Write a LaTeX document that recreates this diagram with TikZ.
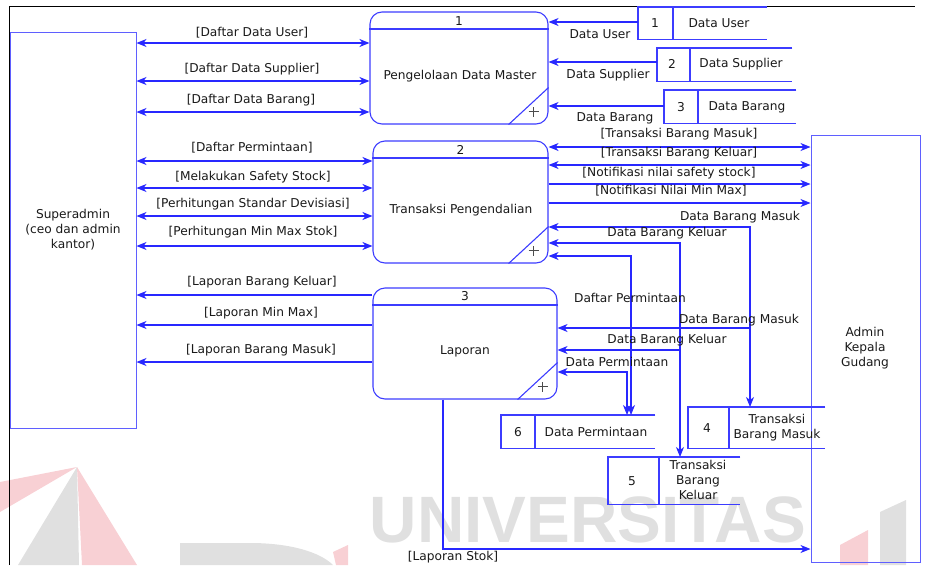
\documentclass[tikz,border=0pt]{standalone}
\usepackage{fontspec}
\setmainfont{DejaVu Sans}
\newfontfamily\wmfont{Liberation Sans}
\usetikzlibrary{arrows.meta}

\definecolor{flowblue}{RGB}{40,40,255}
\definecolor{boxblue}{RGB}{60,60,255}
\definecolor{entblue}{RGB}{95,95,255}
\definecolor{wmgrey}{RGB}{224,224,224}
\definecolor{wmred}{RGB}{248,208,212}
\definecolor{txt}{RGB}{25,25,25}

\newcommand\lblfont{\fontsize{12.2}{15}\selectfont}

\tikzset{
  tip/.tip={Stealth[length=10pt,width=8pt,inset=3pt]},
  flow/.style={draw=flowblue, line width=1.1pt, -tip},
  flow2/.style={draw=flowblue, line width=1.1pt, tip-tip},
  lbl/.style={font=\lblfont, text=txt, inner sep=0pt},
  ent/.style={draw=entblue, line width=1pt, inner sep=0pt, font=\lblfont, text=txt},
  proc/.style={draw=boxblue, line width=1.1pt, rounded corners=12pt, inner sep=0pt},
  procline/.style={draw=boxblue, line width=1.1pt},
  plusst/.style={draw=black!70, line width=0.8pt},
  storefrm/.style={inner sep=0pt, anchor=north west},
  sline/.style={draw=boxblue, line width=1.1pt},
}

\begin{document}
\begin{tikzpicture}[x=1pt,y=-1pt]
\useasboundingbox (0,0) rectangle (925,565);

% ---- background watermark ----
\fill[wmred]  (77,467) -- (0,482) -- (0,512) -- cycle;
\fill[wmgrey] (77,467) -- (18,565) -- (79,565) -- cycle;
\fill[wmred]  (77,467) -- (82,565) -- (137,565) -- cycle;
\fill[wmgrey] (180,565) -- (180,543) -- (250,543) .. controls (290,543) and (320,552) .. (333,565) -- cycle;
\fill[wmred]  (333,552) -- (348,545) -- (348,565) -- (336,565) -- cycle;
\fill[wmred]  (840,545) -- (868,530) -- (868,565) -- (840,565) -- cycle;
\fill[wmgrey] (880,512) -- (906,500) -- (906,565) -- (880,565) -- cycle;
\node[anchor=base, inner sep=0pt, text height=47pt, text depth=0pt, text=wmgrey,
      font=\wmfont\bfseries\fontsize{65.6}{66}\selectfont] (wm) at (588,542) {UNIVERSITAS};

% ---- page frame ----
\draw[black, line width=0.9pt] (9,565) -- (9,6) -- (915,6);

% ---- external entities ----
\node[ent, minimum width=126, minimum height=396, align=center] (sa) at (73,230) {Superadmin\\(ceo dan admin\\kantor)};
\node[ent, minimum width=109, minimum height=427] (ak) at (865.5,348.5) {};
\node[lbl, align=center] (akt) at (865,348) {Admin\\Kepala\\Gudang};

% ---- processes ----
\node[proc, minimum width=178, minimum height=112] (p1) at (459,68) {};
\node[proc, minimum width=175, minimum height=122] (p2) at (460.5,202) {};
\node[proc, minimum width=184, minimum height=111] (p3) at (465,343.5) {};

\draw[procline] (p1.west |- 0,29) -- (p1.east |- 0,29);
\draw[procline] (p2.west |- 0,158) -- (p2.east |- 0,158);
\draw[procline] (p3.west |- 0,305) -- (p3.east |- 0,305);

\node[lbl] (p1id) at (p1.north |- 0,21) {1};
\node[lbl] (p2id) at (p2.north |- 0,150) {2};
\node[lbl] (p3id) at (p3.north |- 0,296) {3};

\node[lbl] (p1t) at (460,76) {Pengelolaan Data Master};
\node[lbl] (p2t) at (461,210) {Transaksi Pengendalian};
\node[lbl] (p3t) at (465,351) {Laporan};

\foreach \p in {p1,p2,p3}{
  \draw[procline] ([xshift=-40]\p.south east) -- ([yshift=37]\p.south east);
  \coordinate (\p c) at ([xshift=-15,yshift=13]\p.south east);
  \draw[plusst] ([xshift=-5]\p c) -- ([xshift=5]\p c) ([yshift=-5]\p c) -- ([yshift=5]\p c);
}

% ---- data stores ----
% store 1
\node[storefrm, minimum width=129, minimum height=32] (s1) at (638,7) {};
\draw[sline] (s1.north east) -- (s1.north west) -- (s1.south west) -- (s1.south east);
\draw[sline] ([xshift=35]s1.north west) -- ([xshift=35]s1.south west);
\node[lbl] (s1id) at (655,23) {1};
\node[lbl] (s1t) at (719,23) {Data User};
% store 2
\node[storefrm, minimum width=135, minimum height=33] (s2) at (657,48) {};
\draw[sline] (s2.north east) -- (s2.north west) -- (s2.south west) -- (s2.south east);
\draw[sline] ([xshift=33]s2.north west) -- ([xshift=33]s2.south west);
\node[lbl] (s2id) at (672,64) {2};
\node[lbl] (s2t) at (741,64) {Data Supplier};
% store 3
\node[storefrm, minimum width=132, minimum height=33] (s3) at (664,90) {};
\draw[sline] (s3.north east) -- (s3.north west) -- (s3.south west) -- (s3.south east);
\draw[sline] ([xshift=34]s3.north west) -- ([xshift=34]s3.south west);
\node[lbl] (s3id) at (681,107) {3};
\node[lbl] (s3t) at (747,107) {Data Barang};
% store 4
\node[storefrm, minimum width=137, minimum height=41] (s4) at (688,407) {};
\draw[sline] (s4.north east) -- (s4.north west) -- (s4.south west) -- (s4.south east);
\draw[sline] ([xshift=41]s4.north west) -- ([xshift=41]s4.south west);
\node[lbl] (s4id) at (707,428) {4};
\node[lbl, align=center] (s4t) at (777,428) {Transaksi\\Barang Masuk};
% store 5
\node[storefrm, minimum width=132, minimum height=47] (s5) at (608,457) {};
\draw[sline] (s5.north east) -- (s5.north west) -- (s5.south west) -- (s5.south east);
\draw[sline] ([xshift=51]s5.north west) -- ([xshift=51]s5.south west);
\node[lbl] (s5id) at (632,481) {5};
\node[lbl, align=center] (s5t) at (698,480) {Transaksi\\Barang\\Keluar};
% store 6
\node[storefrm, minimum width=154, minimum height=33] (s6) at (501,415) {};
\draw[sline] (s6.north east) -- (s6.north west) -- (s6.south west) -- (s6.south east);
\draw[sline] ([xshift=34]s6.north west) -- ([xshift=34]s6.south west);
\node[lbl] (s6id) at (518,432) {6};
\node[lbl] (s6t) at (596,432) {Data Permintaan};

% ---- Superadmin <-> process 1 ----
\draw[flow2] (sa.east |- 0,43)  -- (p1.west |- 0,43);
\draw[flow2] (sa.east |- 0,81)  -- (p1.west |- 0,81);
\draw[flow2] (sa.east |- 0,112) -- (p1.west |- 0,112);
\node[lbl] (f1) at (252,33)  {[Daftar Data User]};
\node[lbl] (f2) at (252,69)  {[Daftar Data Supplier]};
\node[lbl] (f3) at (251,100) {[Daftar Data Barang]};

% ---- stores -> process 1 ----
\draw[flow] (s1.west |- 0,22)  -- (p1.east |- 0,22);
\draw[flow] (s2.west |- 0,62)  -- (p1.east |- 0,62);
\draw[flow] (s3.west |- 0,106) -- (p1.east |- 0,106);
\node[lbl] (f4) at (600,34)  {Data User};
\node[lbl] (f5) at (608,75)  {Data Supplier};
\node[lbl] (f6) at (615,118) {Data Barang};

% ---- Superadmin <-> process 2 ----
\draw[flow2] (sa.east |- 0,161) -- (p2.west |- 0,161);
\draw[flow2] (sa.east |- 0,188) -- (p2.west |- 0,188);
\draw[flow2] (sa.east |- 0,216) -- (p2.west |- 0,216);
\draw[flow2] (sa.east |- 0,246) -- (p2.west |- 0,246);
\node[lbl] (f7)  at (252,148) {[Daftar Permintaan]};
\node[lbl] (f8)  at (253,177) {[Melakukan Safety Stock]};
\node[lbl] (f9)  at (253,204) {[Perhitungan Standar Devisiasi]};
\node[lbl] (f10) at (253,232) {[Perhitungan Min Max Stok]};

% ---- process 2 <-> Admin Kepala Gudang ----
\draw[flow2] (p2.east |- 0,147) -- (ak.west |- 0,147);
\draw[flow2] (p2.east |- 0,165) -- (ak.west |- 0,165);
\draw[flow]  (p2.east |- 0,184) -- (ak.west |- 0,184);
\draw[flow]  (p2.east |- 0,203) -- (ak.west |- 0,203);
\node[lbl] (f11) at (679,134) {[Transaksi Barang Masuk]};
\node[lbl] (f12) at (679,153) {[Transaksi Barang Keluar]};
\node[lbl] (f13) at (669,173) {[Notifikasi nilai safety stock]};
\node[lbl] (f14) at (671,191) {[Notifikasi Nilai Min Max]};

% ---- process 2 / process 3 <-> stores 4, 5, 6 ----
\draw[flow2] (p2.east |- 0,227) -| (s4.north -| 750,0);
\draw[flow2] (p2.east |- 0,243) -| (s5.north -| 680,0);
\draw[flow2] (p2.east |- 0,256) -| (s6.north -| 631,0);
\coordinate (jm) at (750,328);
\coordinate (jk) at (680,350);
\draw[flow]  (jm) -- (p3.east |- jm);
\draw[flow]  (jk) -- (p3.east |- jk);
\draw[flow2] (p3.east |- 0,372) -| (s6.north -| 627,0);
\node[lbl] (f15) at (740,217) {Data Barang Masuk};
\node[lbl] (f16) at (667,233) {Data Barang Keluar};
\node[lbl] (f17) at (630,298) {Daftar Permintaan};
\node[lbl] (f18) at (739,320) {Data Barang Masuk};
\node[lbl] (f19) at (667,340) {Data Barang Keluar};
\node[lbl] (f20) at (617,362) {Data Permintaan};

% ---- process 3 -> Superadmin ----
\draw[flow] (p3.west |- 0,295) -- (sa.east |- 0,295);
\draw[flow] (p3.west |- 0,325) -- (sa.east |- 0,325);
\draw[flow] (p3.west |- 0,362) -- (sa.east |- 0,362);
\node[lbl] (f21) at (262,282) {[Laporan Barang Keluar]};
\node[lbl] (f22) at (261,313) {[Laporan Min Max]};
\node[lbl] (f23) at (261,350) {[Laporan Barang Masuk]};

% ---- process 3 -> Admin Kepala Gudang ----
\draw[flow] (p3.south -| 443,0) |- (ak.west |- 0,549);
\node[lbl] (f24) at (453,557) {[Laporan Stok]};

\end{tikzpicture}
\end{document}
